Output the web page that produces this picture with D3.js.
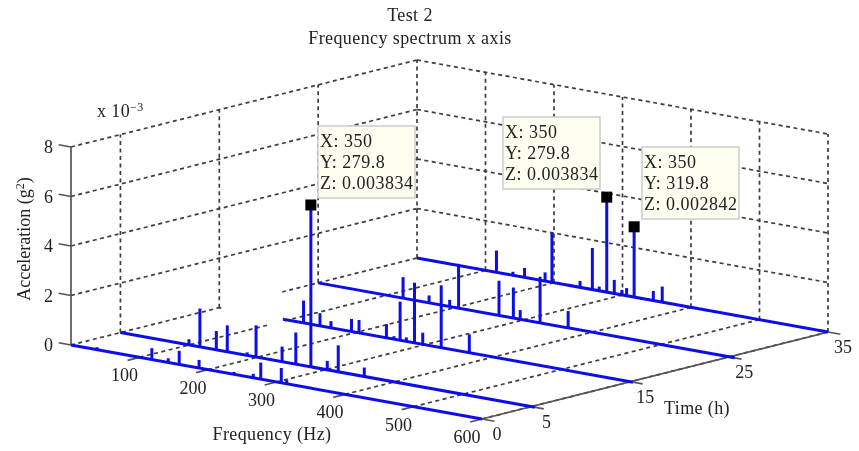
<!DOCTYPE html>
<html>
<head>
<meta charset="utf-8">
<script src="https://cdn.jsdelivr.net/npm/d3@7"></script>
<style>
  html, body { margin: 0; background: #fff; }
  text { font-family: "Liberation Serif", serif; fill: #222; }
</style>
</head>
<body>
<svg id="chart" width="859" height="451"></svg>
<script>
// values, amplitude in units of 10^-3 g^2
var freqTicks = [100, 200, 300, 400, 500, 600];
var timeTicks = [0, 5, 15, 25, 35];
var accelTicks = [0, 2, 4, 6, 8];

var seriesTimes = [0, 5, 15, 25, 35];
var lineStart = [0, 0, 93, 0, 0];
var lineEnd = [600, 605, 604, 608, 600];

var freqT0 = [38, 118, 142, 158, 187, 238, 266, 277, 307, 315];
var ampT0 = [0.1, 0.46, 0.17, 0.55, 0.33, 0.1, 0.16, 0.67, 0.6, 0.16];
var freqT5 = [100, 116, 140, 156, 185, 198, 236, 256, 278, 302, 318, 356];
var ampT5 = [0.23, 1.55, 0.76, 1.07, 0.12, 1.28, 0.61, 1.28, 6.54, 0.36, 1.07, 0.36];
var freqT15 = [123, 147, 163, 193, 204, 244, 255, 264, 273, 285, 297, 324, 365];
var ampT15 = [0.9, 0.51, 0.27, 0.51, 0.52, 0.55, 0.12, 1.56, 0.16, 2.43, 0.47, 2.52, 0.74];
var freqT25 = [124, 162, 192, 205, 264, 285, 295, 324, 365];
var ampT25 = [0.85, 0.3, 0.27, 1.79, 1.4, 1.23, 0.37, 1.86, 0.68];
var freqT35 = [116, 140, 157, 187, 197, 238, 256, 266, 277, 288, 299, 306, 317, 345, 358];
var ampT35 = [0.88, 0.14, 0.38, 0.35, 1.99, 0.26, 1.68, 0.17, 3.84, 0.55, 0.2, 0.31, 2.84, 0.39, 0.63];

var allFreqs = [freqT0, freqT5, freqT15, freqT25, freqT35];
var allAmps = [ampT0, ampT5, ampT15, ampT25, ampT35];

// data cursors: series index, frequency, amplitude, then the tip text
var cursorSeries = [1, 4, 4];
var cursorFreq = [278, 277, 317];
var cursorAmp = [6.54, 3.84, 2.84];
var cursorLines = [
  ["X: 350", "Y: 279.8", "Z: 0.003834"],
  ["X: 350", "Y: 279.8", "Z: 0.003834"],
  ["X: 350", "Y: 319.8", "Z: 0.002842"]
];
var cursorBox = [[318, 126], [503, 117], [642, 147]];

var svg = d3.select("#chart");

// the reference is a soft jpeg, take the hard edge off
svg.append("filter").attr("id", "soft")
  .append("feGaussianBlur").attr("stdDeviation", 0.35);
var root = svg.append("g").attr("filter", "url(#soft)");

// oblique projection, one linear scale per screen axis and data axis
var fx = d3.scaleLinear().domain([0, 600]).range([0, 411]);
var fy = d3.scaleLinear().domain([0, 600]).range([0, 74]);
var tx = d3.scaleLinear().domain([0, 35]).range([0, 346]);
var ty = d3.scaleLinear().domain([0, 35]).range([0, -87]);
var az = d3.scaleLinear().domain([0, 8]).range([0, -198]);

function px(f, t) { return 71 + fx(f) + tx(t); }
function py(f, t, a) { return 345 + fy(f) + ty(t) + az(a || 0); }

function seg(g, f1, t1, a1, f2, t2, a2) {
  return g.append("line")
    .attr("x1", px(f1, t1)).attr("y1", py(f1, t1, a1))
    .attr("x2", px(f2, t2)).attr("y2", py(f2, t2, a2));
}

// dashed grid on walls and floor
var grid = root.append("g")
  .attr("stroke", "#3c3c3c")
  .attr("stroke-width", 1.7)
  .attr("stroke-dasharray", "4 3.5")
  .attr("fill", "none");

accelTicks.forEach(function(a) {
  seg(grid, 0, 0, a, 0, 35, a);
  seg(grid, 0, 35, a, 600, 35, a);
});
timeTicks.slice(1).forEach(function(t) {
  seg(grid, 0, t, 0, 0, t, 8);
  seg(grid, 0, t, 0, 600, t, 0);
});
freqTicks.forEach(function(f) {
  seg(grid, f, 35, 0, f, 35, 8);
  seg(grid, f, 0, 0, f, 35, 0);
});

// blank patch the source has around the start of the 15 h trace
var gapX = px(0, 15), gapY = py(0, 15);
root.append("polygon")
  .attr("fill", "#fff")
  .attr("points", [
    [gapX + 2, gapY - 22],
    [gapX + 63, gapY - 26],
    [gapX + 63, gapY + 22],
    [gapX + 50, gapY + 22],
    [gapX + 50, gapY + 14],
    [gapX + 2, gapY + 7]
  ].join(" "));

// solid axes
var axes = root.append("g").attr("stroke", "#555").attr("stroke-width", 1.7);
seg(axes, 0, 0, 0, 0, 0, 8);
seg(axes, 600, 0, 0, 600, 35, 0);
accelTicks.forEach(function(a) { seg(axes, 0, 0, a, -18, 0, a); });
timeTicks.forEach(function(t) { seg(axes, 600, t, 0, 618, t, 0); });
freqTicks.forEach(function(f) { seg(axes, f, 0, 0, f, -1.2, 0); });

// traces
var blue = "#0f0fe8";
var traces = root.append("g").attr("stroke", blue).attr("stroke-width", 3).attr("fill", "none");
seriesTimes.forEach(function(t, i) {
  seg(traces, lineStart[i], t, 0, lineEnd[i], t, 0);
  allFreqs[i].forEach(function(f, j) {
    seg(traces, f, t, 0, f, t, allAmps[i][j]);
  });
});

// data cursors
var tipW = 97, tipH = 72;
cursorSeries.forEach(function(s, i) {
  var mx = px(cursorFreq[i], seriesTimes[s]);
  var my = py(cursorFreq[i], seriesTimes[s], cursorAmp[i]);
  root.append("rect")
    .attr("x", mx - 5.5).attr("y", my - 5.5)
    .attr("width", 11).attr("height", 11)
    .attr("fill", "#000");
});
cursorBox.forEach(function(b, i) {
  var tip = root.append("g").attr("transform", "translate(" + b[0] + "," + b[1] + ")");
  tip.append("rect")
    .attr("width", tipW).attr("height", tipH)
    .attr("fill", "#fdfdf0").attr("stroke", "#ccc").attr("stroke-width", 1.5);
  cursorLines[i].forEach(function(l, j) {
    tip.append("text")
      .attr("x", 2).attr("y", 21 + j * 21)
      .attr("font-size", 18)
      .attr("letter-spacing", 0.5)
      .text(l);
  });
});

// tick labels
var labels = root.append("g").attr("font-size", 18);
accelTicks.forEach(function(a) {
  labels.append("text").attr("text-anchor", "end")
    .attr("x", px(0, 0) - 18).attr("y", py(0, 0, a) + 6).text(a);
});
freqTicks.forEach(function(f) {
  labels.append("text").attr("text-anchor", "middle")
    .attr("x", px(f, 0) - 15).attr("y", py(f, 0) + 24).text(f);
});
timeTicks.forEach(function(t) {
  labels.append("text").attr("text-anchor", "middle")
    .attr("x", px(600, t) + 15).attr("y", py(600, t) + 21).text(t);
});

// titles and axis labels
function label(x, y, s, size, anchor) {
  return root.append("text").attr("x", x).attr("y", y)
    .attr("font-size", size).attr("letter-spacing", 0.4)
    .attr("text-anchor", anchor || "middle").text(s);
}
label(410, 21, "Test 2", 18);
label(410, 44, "Frequency spectrum x axis", 18);
label(272, 440, "Frequency (Hz)", 18);
label(697, 414, "Time (h)", 18);

var exp = label(97, 117, "x 10", 18, "start");
exp.append("tspan").attr("dy", -6).attr("font-size", 12).text("\u22123");

var yl = root.append("text")
  .attr("transform", "translate(30,239) rotate(-90)")
  .attr("font-size", 18).attr("text-anchor", "middle")
  .text("Acceleration (g");
yl.append("tspan").attr("dy", -6).attr("font-size", 12).text("2");
yl.append("tspan").attr("dy", 6).text(")");
</script>
</body>
</html>
